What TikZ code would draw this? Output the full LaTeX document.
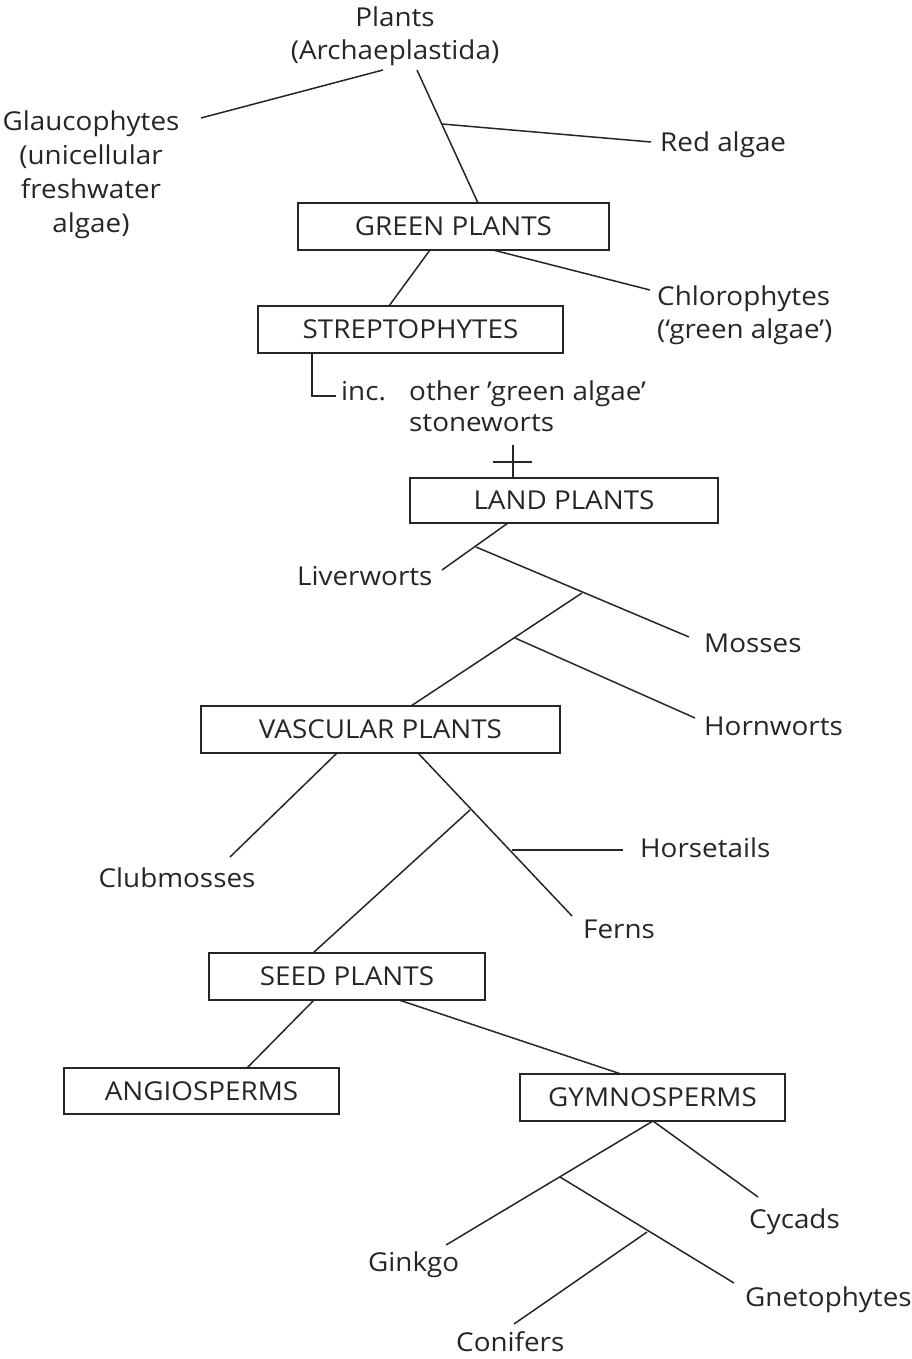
\documentclass[tikz,border=0pt]{standalone}
\usepackage{fontspec}
\setmainfont{Open Sans}[FakeStretch=1.07]
\newcommand\lblfont{\fontsize{26}{30}\selectfont}
\begin{document}
\begin{tikzpicture}[x=1pt,y=-1pt,
  edge/.style={line width=1.5pt,draw=black!85},
  box/.style={draw=black!85,line width=1.5pt,rectangle,inner sep=0pt,font=\lblfont,text=black!85,text height=18.6pt,text depth=0pt},
  lbl/.style={inner sep=0pt,font=\lblfont,anchor=base west,text=black!85},
  lblc/.style={inner sep=0pt,font=\lblfont,anchor=base,text=black!85}]
\useasboundingbox (0,0) rectangle (911,1359);
% boxes
\node[box,minimum width=311pt,minimum height=47pt] (green) at (453.5,226.5) {GREEN PLANTS};
\node[box,minimum width=305pt,minimum height=47pt] (strep) at (410.5,329.5) {STREPTOPHYTES};
\node[box,minimum width=308pt,minimum height=45pt] (land) at (564,500.5) {LAND PLANTS};
\node[box,minimum width=359pt,minimum height=47pt] (vasc) at (380.5,729.5) {VASCULAR PLANTS};
\node[box,minimum width=276pt,minimum height=47pt] (seed) at (347,976.5) {SEED PLANTS};
\node[box,minimum width=275pt,minimum height=46pt] (angio) at (201.5,1091) {ANGIOSPERMS};
\node[box,minimum width=265pt,minimum height=47pt] (gymno) at (652.5,1097.5) {GYMNOSPERMS};
% labels
\node[lblc] (plants1) at (395,27) {Plants};
\node[lblc] (plants2) at (395,60) {(Archaeplastida)};
\node[lblc] (glau1) at (91,131) {Glaucophytes};
\node[lblc] (glau2) at (91,165) {(unicellular};
\node[lblc] (glau3) at (91,198) {freshwater};
\node[lblc] (glau4) at (91,232) {algae)};
\node[lbl] (red) at (660,152) {Red algae};
\node[lbl] (chl1) at (657,305) {Chlorophytes};
\node[lbl] (chl2) at (657,338) {(‘green algae’)};
\node[lbl] (inc) at (341,400) {inc.};
\node[lbl] (oth1) at (409,400) {other ’green algae’};
\node[lbl] (oth2) at (409,431) {stoneworts};
\node[lbl] (liver) at (297,585) {Liverworts};
\node[lbl] (mosses) at (704,652) {Mosses};
\node[lbl] (horn) at (704,735) {Hornworts};
\node[lblc] (club) at (177,887) {Clubmosses};
\node[lbl] (horse) at (640,857) {Horsetails};
\node[lbl] (ferns) at (583,938) {Ferns};
\node[lbl] (cycads) at (749,1228) {Cycads};
\node[lbl] (ginkgo) at (368,1271) {Ginkgo};
\node[lbl] (gneto) at (745,1306) {Gnetophytes};
\node[lbl] (conif) at (456,1351) {Conifers};
% connector coordinates
\coordinate (glA) at (201,118);
\coordinate (glB) at (383,70);
\coordinate (trT) at (417,70);
\coordinate (trB) at (478,203);
\coordinate (rbP) at (442,124);
\coordinate (rbE) at (651,142);
\coordinate (gsA) at (430,250);
\coordinate (gsB) at (389,306);
\coordinate (gcA) at (493,250);
\coordinate (gcB) at (650,290);
\coordinate (incA) at (312,353);
\coordinate (incB) at (312,396);
\coordinate (incC) at (336,396);
\coordinate (crT) at (513,445);
\coordinate (crB) at (513,478);
\coordinate (crL) at (493,462);
\coordinate (crR) at (532,462);
\coordinate (lpB) at (508,523);
\coordinate (lvE) at (442,570);
\coordinate (b1) at (476,547);
\coordinate (msE) at (689,637);
\coordinate (b2) at (582,593);
\coordinate (vsT) at (411,706);
\coordinate (b3) at (515,638);
\coordinate (hwE) at (695,718);
\coordinate (vcA) at (337,753);
\coordinate (cmE) at (230,857);
\coordinate (vfA) at (418,753);
\coordinate (fnE) at (572,916);
\coordinate (b4) at (470,810);
\coordinate (sdT) at (313,953);
\coordinate (hsA) at (512,850);
\coordinate (hsE) at (623,850);
\coordinate (saA) at (314,1000);
\coordinate (saB) at (247,1068);
\coordinate (sgA) at (399,1000);
\coordinate (sgB) at (621,1074);
\coordinate (gyB) at (653,1121);
\coordinate (cyE) at (758,1197);
\coordinate (gkE) at (446,1245);
\coordinate (b5) at (560,1177);
\coordinate (gnE) at (734,1283);
\coordinate (b6) at (647,1232);
\coordinate (cfE) at (514,1324);
% connectors
\draw[edge] (glA) -- (glB);
\draw[edge] (trT) -- (trB);
\draw[edge] (rbP) -- (rbE);
\draw[edge] (gsA) -- (gsB);
\draw[edge] (gcA) -- (gcB);
\draw[edge] (incA) -- (incB) -- (incC);
\draw[edge] (crT) -- (crB);
\draw[edge] (crL) -- (crR);
\draw[edge] (lpB) -- (lvE);
\draw[edge] (b1) -- (msE);
\draw[edge] (b2) -- (vsT);
\draw[edge] (b3) -- (hwE);
\draw[edge] (vcA) -- (cmE);
\draw[edge] (vfA) -- (fnE);
\draw[edge] (b4) -- (sdT);
\draw[edge] (hsA) -- (hsE);
\draw[edge] (saA) -- (saB);
\draw[edge] (sgA) -- (sgB);
\draw[edge] (gyB) -- (cyE);
\draw[edge] (gyB) -- (gkE);
\draw[edge] (b5) -- (gnE);
\draw[edge] (b6) -- (cfE);
\end{tikzpicture}
\end{document}
